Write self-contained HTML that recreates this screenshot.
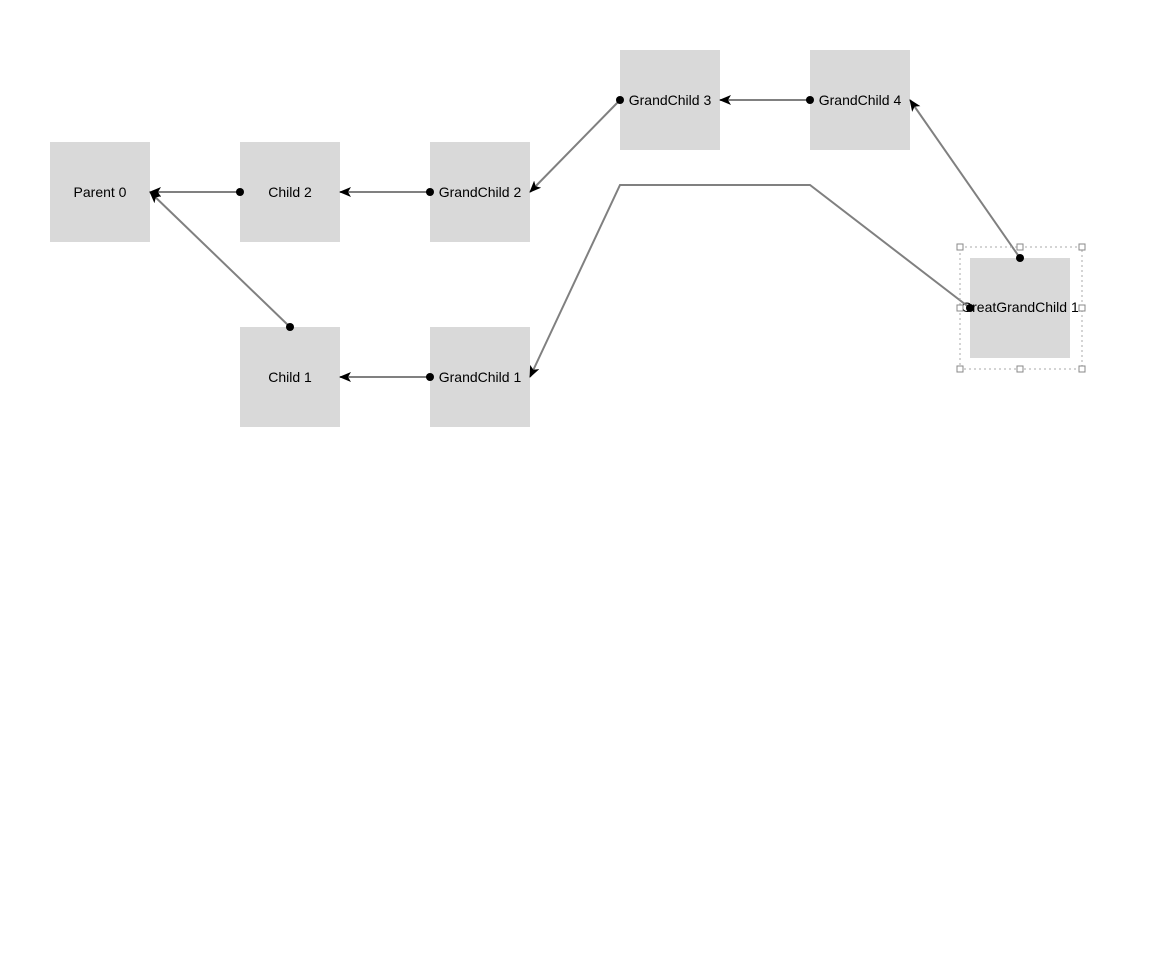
<!DOCTYPE html>
<html><head><style>body{margin:0;background:#fff}</style></head><body>
<svg width="1165" height="950" xmlns="http://www.w3.org/2000/svg" font-family="Liberation Sans, Arial, sans-serif" font-size="14">
<defs>
<marker id="a" markerWidth="12" markerHeight="10" refX="11" refY="5" orient="auto" markerUnits="userSpaceOnUse">
<path d="M0,0 L12,5 L0,10 L3,5 Z" fill="#000"/>
</marker>
</defs>
<g fill="#d9d9d9">
<rect x="50" y="142" width="100" height="100"/>
<rect x="240" y="142" width="100" height="100"/>
<rect x="430" y="142" width="100" height="100"/>
<rect x="620" y="50" width="100" height="100"/>
<rect x="810" y="50" width="100" height="100"/>
<rect x="240" y="327" width="100" height="100"/>
<rect x="430" y="327" width="100" height="100"/>
<rect x="970" y="258" width="100" height="100"/>
</g>
<g fill="#000" text-anchor="middle">
<text x="100" y="197">Parent 0</text>
<text x="290" y="197">Child 2</text>
<text x="480" y="197">GrandChild 2</text>
<text x="670" y="105">GrandChild 3</text>
<text x="860" y="105">GrandChild 4</text>
<text x="290" y="382">Child 1</text>
<text x="480" y="382">GrandChild 1</text>
<text x="1020" y="312">GreatGrandChild 1</text>
</g>
<g stroke="#808080" stroke-width="2" fill="none" marker-end="url(#a)">
<path d="M240,192 L150,192"/>
<path d="M290,327 L150,192"/>
<path d="M430,192 L340,192"/>
<path d="M620,100 L530,192"/>
<path d="M810,100 L720,100"/>
<path d="M430,377 L340,377"/>
<path d="M1020,258 L910,100"/>
<path d="M970,308 L810,185 L620,185 L530,377"/>
</g>
<g fill="#000">
<circle cx="240" cy="192" r="4"/><circle cx="290" cy="327" r="4"/>
<circle cx="430" cy="192" r="4"/><circle cx="620" cy="100" r="4"/>
<circle cx="810" cy="100" r="4"/><circle cx="430" cy="377" r="4"/>
<circle cx="1020" cy="258" r="4"/><circle cx="970" cy="308" r="4"/>
</g>
<rect x="960" y="247" width="122" height="122" fill="none" stroke="#aaa" stroke-dasharray="2,3"/>
<g fill="#fff" stroke="#888">
<rect x="957" y="244" width="6" height="6"/><rect x="1017" y="244" width="6" height="6"/><rect x="1079" y="244" width="6" height="6"/>
<rect x="957" y="305" width="6" height="6"/><rect x="1079" y="305" width="6" height="6"/>
<rect x="957" y="366" width="6" height="6"/><rect x="1017" y="366" width="6" height="6"/><rect x="1079" y="366" width="6" height="6"/>
</g>
</svg>
</body></html>
